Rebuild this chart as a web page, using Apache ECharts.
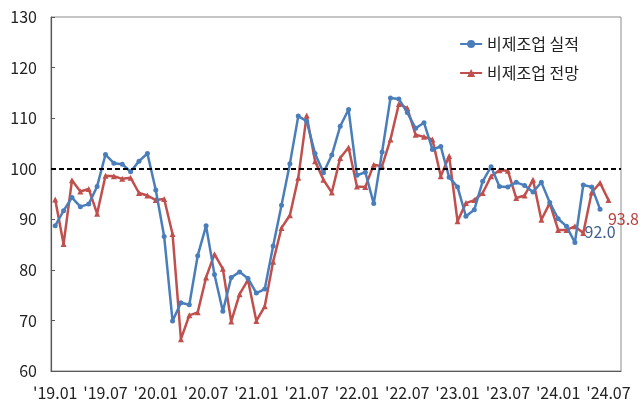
<!DOCTYPE html>
<html>
<head>
<meta charset="utf-8">
<script src="https://cdn.jsdelivr.net/npm/echarts@6/dist/echarts.min.js"></script>
<style>html,body{margin:0;padding:0;background:#fff}#c{width:642px;height:413px}</style>
</head>
<body>
<div id="c"></div>
<script>
// Categories: monthly 2019.01 .. 2024.08 (last slot empty)
const categories = [];
for (let y = 19; y <= 24; y++) {
  for (let m = 1; m <= 12; m++) {
    if (y === 24 && m > 8) break;
    categories.push("'" + y + "." + (m < 10 ? "0" + m : m));
  }
}
const seriesNames = ['비제조업 실적', '비제조업 전망'];
const actual = [88.7,91.7,94.3,92.5,93.0,96.5,102.8,101.1,100.9,99.4,101.5,103.0,
  95.8,86.6,69.9,73.5,73.1,82.8,88.7,79.1,71.8,78.5,79.6,78.3,
  75.4,76.2,84.7,92.8,101.0,110.4,109.4,103.0,99.2,102.7,108.4,111.7,
  98.7,99.3,93.1,103.3,114.0,113.8,111.1,108.0,109.1,103.8,104.4,98.3,
  96.4,90.6,91.9,97.5,100.4,96.5,96.4,97.3,96.7,95.4,97.3,93.3,
  90.1,88.6,85.4,96.8,96.4,92.0];
const forecast = [93.9,85.1,97.7,95.5,96.0,91.1,98.6,98.5,98.0,98.2,95.2,94.7,
  93.8,94.0,87.1,66.3,71.0,71.6,78.5,83.1,80.2,69.8,75.2,78.0,
  69.9,72.8,81.6,88.3,90.8,98.2,110.5,101.5,97.8,95.3,102.1,104.2,
  96.5,96.4,100.8,100.5,105.8,112.8,112.0,106.7,106.3,105.8,98.5,102.5,
  89.6,93.2,93.8,95.2,98.5,99.7,99.6,94.2,94.7,97.8,89.9,93.2,
  87.9,87.9,88.6,87.3,95.3,97.2,93.8];
const refLine = 100;
const yMin = 60, yMax = 130, yStep = 10;

const FONT = "'Liberation Sans Narrow','Noto Sans CJK KR','Liberation Sans',sans-serif";

function withEndLabel(arr, color, pos, dist, off) {
  return arr.map((v, i) => i === arr.length - 1 ? {
    value: v,
    label: { show: true, position: pos, distance: dist, offset: off, color: color,
      fontFamily: FONT, fontSize: 16, formatter: p => Number(p.value).toFixed(1) }
  } : v);
}

const chart = echarts.init(document.getElementById('c'), null, { renderer: 'canvas' });
chart.setOption({
  animation: false,
  backgroundColor: '#fff',
  grid: { left: 51, right: 21, top: 17, bottom: 42, show: true, borderColor: '#8c8c8c', borderWidth: 1, backgroundColor: 'transparent' },
  legend: {
    orient: 'vertical', right: 58, top: 31, itemGap: 13, itemWidth: 22, itemHeight: 10,
    textStyle: { fontFamily: "'Noto Sans CJK KR',sans-serif", fontSize: 16, color: '#222' },
    data: seriesNames
  },
  xAxis: {
    type: 'category', data: categories, boundaryGap: true,
    axisLine: { lineStyle: { color: '#595959', width: 1.2 } },
    axisTick: { inside: true, length: 5, interval: 2, lineStyle: { color: '#595959' } },
    axisLabel: { interval: 5, margin: 14, fontFamily: FONT, fontSize: 16, color: '#222' },
    splitLine: { show: false }
  },
  yAxis: {
    type: 'value', min: yMin, max: yMax, interval: yStep,
    axisLine: { show: true, lineStyle: { color: '#595959', width: 1.2 } },
    axisTick: { show: true, inside: true, length: 4, lineStyle: { color: '#595959' } },
    axisLabel: { margin: 14, fontFamily: FONT, fontSize: 16, color: '#222' },
    splitLine: { show: false }
  },
  series: [
    {
      name: seriesNames[0], type: 'line', data: withEndLabel(actual, '#3e5f8f', 'bottom', 12, [0, 0]),
      symbol: 'circle', symbolSize: 5, showAllSymbol: true, z: 3,
      lineStyle: { color: '#4a7ebb', width: 2.5 }, itemStyle: { color: '#4a7ebb' },
      markLine: {
        silent: true, symbol: 'none', label: { show: false },
        lineStyle: { color: '#000', type: [5, 3], width: 2 },
        data: [{ yAxis: refLine }]
      }
    },
    {
      name: seriesNames[1], type: 'line', data: withEndLabel(forecast, '#b8403c', 'bottom', 8, [15, 0]),
      symbol: 'triangle', symbolSize: 6, showAllSymbol: true, z: 2,
      lineStyle: { color: '#c0504d', width: 2.5 }, itemStyle: { color: '#c0504d' }
    }
  ]
});
</script>
</body>
</html>
